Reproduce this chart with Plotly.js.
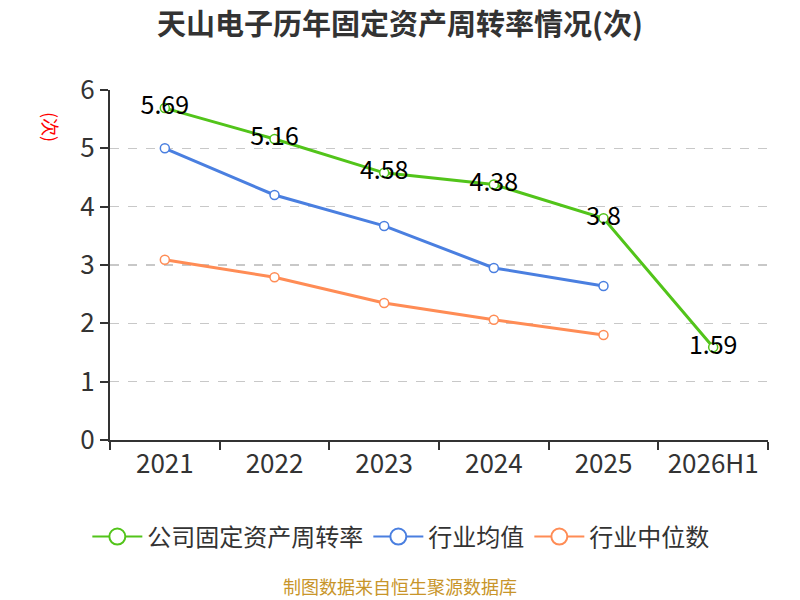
<!DOCTYPE html>
<html>
<head>
<meta charset="utf-8">
<script src="https://cdn.plot.ly/plotly-3.0.1.min.js"></script>
<style>
  html, body { margin: 0; padding: 0; background: #fff; }
  #graph { width: 800px; height: 600px; }
</style>
</head>
<body>
<div id="graph"></div>
<script>
var years = ["2021", "2022", "2023", "2024", "2025", "2026H1"];
var company = [5.69, 5.16, 4.58, 4.38, 3.8, 1.59];
var industryAvg = [5.0, 4.2, 3.67, 2.95, 2.64];
var industryMedian = [3.09, 2.79, 2.35, 2.06, 1.8];

var names = ['公司固定资产周转率', '行业均值', '行业中位数'];
var colors = ['#52c41a', '#4a7fe0', '#ff8c55'];

var font = '"Noto Sans CJK SC", "Noto Sans", sans-serif';

function series(i, y, withText) {
    var t = {
        type: 'scatter',
        mode: withText ? 'lines+markers+text' : 'lines+markers',
        name: names[i],
        x: years.slice(0, y.length),
        y: y,
        line: { color: colors[i], width: 3 },
        marker: { size: 9, color: '#fff', line: { color: colors[i], width: 1.5 } },
        cliponaxis: false,
        showlegend: false
    };
    if (withText) {
        t.text = y.map(function (v) { return String(v); });
        t.textposition = 'middle center';
        t.textfont = { size: 25, color: '#000', family: font };
    }
    return t;
}

// legend-only entries with bigger symbols, like the reference
function legendEntry(i) {
    return {
        type: 'scatter',
        mode: 'lines+markers',
        name: names[i],
        x: [null],
        y: [null],
        line: { color: colors[i], width: 2 },
        marker: { size: 21, color: '#fff', line: { color: colors[i], width: 2 } },
        showlegend: true
    };
}

var plot_data = [
    series(0, company, true),
    series(1, industryAvg, false),
    series(2, industryMedian, false),
    legendEntry(0),
    legendEntry(1),
    legendEntry(2)
];

var layout = {
    width: 800,
    height: 600,
    paper_bgcolor: '#fff',
    plot_bgcolor: '#fff',
    font: { family: font, size: 24, color: '#333' },
    title: {
        text: '<b>天山电子历年固定资产周转率情况(次)</b>',
        x: 0.5, xanchor: 'center',
        y: 0.958, yanchor: 'middle',
        font: { size: 29, color: '#333', family: font }
    },
    margin: { l: 110, r: 32, t: 90, b: 160 },
    showlegend: true,
    legend: {
        orientation: 'h',
        x: 0.442, xanchor: 'center',
        y: -0.277, yanchor: 'middle',
        font: { size: 24, color: '#333' },
        itemwidth: 50,
        tracegroupgap: 0
    },
    xaxis: {
        type: 'category',
        range: [-0.5, 5.5],
        showline: true,
        linecolor: '#333',
        linewidth: 2,
        ticks: 'outside',
        tickson: 'boundaries',
        ticklen: 8,
        tickwidth: 2,
        tickcolor: '#333',
        showgrid: false,
        tickfont: { size: 26, color: '#333' },
        fixedrange: true
    },
    yaxis: {
        range: [0, 6],
        dtick: 1,
        showline: true,
        linecolor: '#333',
        linewidth: 2,
        ticks: 'outside',
        ticklen: 8,
        tickwidth: 2,
        tickcolor: '#333',
        showgrid: true,
        gridcolor: '#c8c8c8',
        griddash: 'dash',
        gridwidth: 1.5,
        zeroline: false,
        tickfont: { size: 26, color: '#333' },
        fixedrange: true
    },
    annotations: [
        {
            text: '(次)',
            textangle: 90,
            xref: 'paper', yref: 'paper',
            x: -0.09, y: 0.895,
            xanchor: 'center', yanchor: 'middle',
            showarrow: false,
            font: { size: 18, color: '#ff0000', family: font }
        },
        {
            text: '制图数据来自恒生聚源数据库',
            xref: 'paper', yref: 'paper',
            x: 0.441, y: -0.418,
            xanchor: 'center', yanchor: 'middle',
            showarrow: false,
            font: { size: 18, color: '#c8952a', family: font }
        }
    ]
};

Plotly.newPlot('graph', plot_data, layout, { displayModeBar: false, staticPlot: true });
</script>
</body>
</html>
